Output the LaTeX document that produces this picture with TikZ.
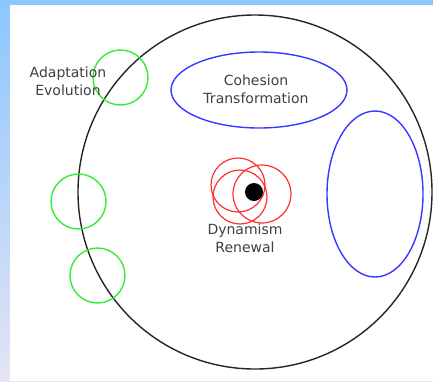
\documentclass[tikz,border=0pt]{standalone}
\usepackage{fontspec}
\setmainfont{DejaVu Sans}
\definecolor{bandtop}{HTML}{8CC6FE}
\definecolor{bandbottom}{HTML}{E4E4F4}
\definecolor{ringgreen}{HTML}{33EE33}
\definecolor{ringblue}{HTML}{3838FF}
\definecolor{ringred}{HTML}{FF3030}
\begin{document}
\begin{tikzpicture}[
    x=1bp, y=-1bp,
    outer/.style={draw=black!85, line width=1.4bp},
    greenring/.style={draw=ringgreen, line width=1.4bp},
    bluering/.style={draw=ringblue, line width=1.4bp},
    redring/.style={draw=ringred, line width=1.2bp},
    caption/.style={
        text=black!75,
        inner sep=0pt,
        align=center,
        font=\fontsize{14bp}{18bp}\selectfont
    }
]
    \useasboundingbox (0,0) rectangle (433,381);
    \shade[top color=bandtop, bottom color=bandbottom] (0,0) rectangle (433,381);
    \fill[white] (10,5) rectangle (433,381);

    \draw[outer] (255,192) circle[radius=177];

    \draw[bluering] (259,90) ellipse[x radius=88, y radius=38];
    \draw[bluering] (375,194) ellipse[x radius=48, y radius=83];

    \draw[greenring] (120.5,77.5) circle[radius=27.5];
    \draw[greenring] (78.5,201.5) circle[radius=27.5];
    \draw[greenring] (97.5,275.5) circle[radius=27.5];

    \draw[redring] (238,185) circle[radius=27];
    \draw[redring] (240,197) circle[radius=27];
    \draw[redring] (262,194) circle[radius=29];
    \fill[black] (254,192) circle[radius=9];

    \node[caption] (adapt) at (68,81) {Adaptation\\Evolution};
    \node[caption] (cohesion) at (256,89) {Cohesion\\Transformation};
    \node[caption] (dynamism) at (245,238) {Dynamism\\Renewal};
\end{tikzpicture}
\end{document}
